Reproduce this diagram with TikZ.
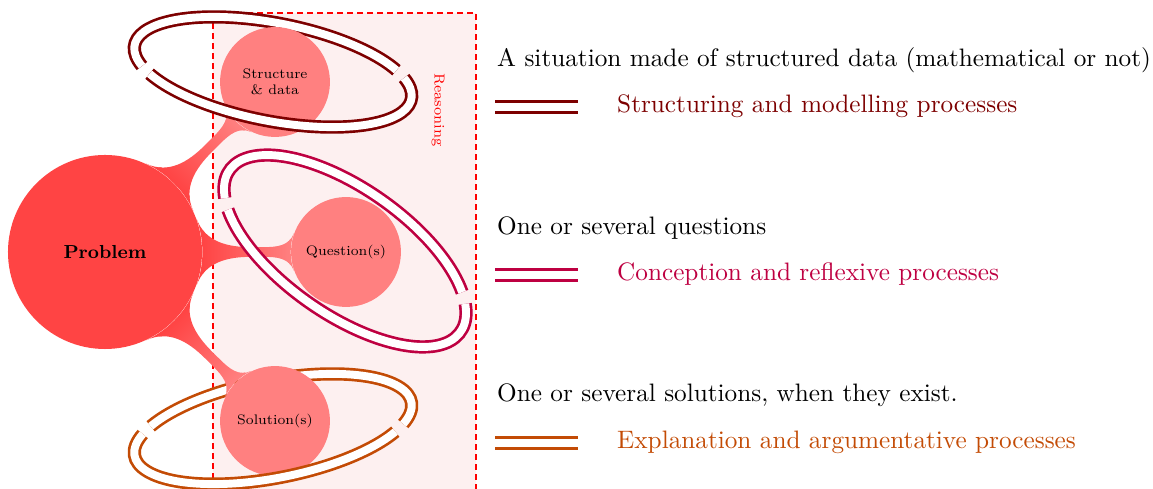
\documentclass[tikz,border=0pt]{standalone}
\usepackage{tikz}
\usetikzlibrary{mindmap}

\definecolor{probred}{RGB}{255,68,68}
\definecolor{kidred}{RGB}{255,128,128}
\definecolor{boxpink}{RGB}{253,240,240}
\definecolor{ringstruct}{RGB}{125,0,0}
\definecolor{ringquest}{RGB}{190,0,65}
\definecolor{ringsol}{RGB}{195,75,5}

\begin{document}
\begin{tikzpicture}[x=0.43pt,y=0.43pt,
  bubble/.style={circle,fill=kidred,inner sep=0pt,minimum size=55.6pt,
    font=\scriptsize,align=center,scale=0.85,transform shape},
  ring/.style={line width=1.15pt,double=white,double distance=3.4pt},
  bar/.style={circle connection bar switch color=from (probred) to (kidred)},
  legend/.style={anchor=west,font=\fontsize{10.85}{13}\selectfont}]
\useasboundingbox (0,0) rectangle (1153,489);
\clip (0,0) rectangle (1153,489);

% Reasoning area
\draw[red,dash pattern=on 2.6pt off 1.7pt,line width=0.9pt,fill=boxpink] (213,-10) rectangle (476,476);
\node[red,rotate=-90,font=\scriptsize,scale=0.89] (reason) at (438,379) {Reasoning};

% Back halves of the rings
\begin{scope}[shift={(273,417)},rotate=-11]
  \draw[ring,draw=ringstruct] (31:141 and 49) arc[start angle=31,end angle=203,x radius=141,y radius=49];
\end{scope}
\begin{scope}[shift={(273,60)},rotate=11]
  \draw[ring,draw=ringsol] (-24:141 and 49) arc[start angle=-24,end angle=148,x radius=141,y radius=49];
\end{scope}

% Concepts
\node[circle,fill=probred,inner sep=0pt,minimum size=92.7pt,font=\small\bfseries,
  scale=0.9,transform shape] (problem) at (105,237) {Problem};
\node[bubble] (struct) at (275,407) {Structure\\ \& data};
\node[bubble] (quest) at (346,237) {Question(s)};
\node[bubble] (sol) at (275,68) {Solution(s)};

% Connections
\path (problem) to[bar] (struct);
\path (problem) to[bar] (quest);
\path (problem) to[bar] (sol);

% Front halves of the rings
\begin{scope}[shift={(273,417)},rotate=-11]
  \draw[ring,draw=ringstruct] (211:141 and 49) arc[start angle=211,end angle=383,x radius=141,y radius=49];
\end{scope}
\begin{scope}[shift={(345,238)},rotate=-35]
  \draw[ring,draw=ringquest] (32:141 and 63) arc[start angle=32,end angle=204,x radius=141,y radius=63];
  \draw[ring,draw=ringquest] (212:141 and 63) arc[start angle=212,end angle=384,x radius=141,y radius=63];
\end{scope}
\begin{scope}[shift={(273,60)},rotate=11]
  \draw[ring,draw=ringsol] (156:141 and 49) arc[start angle=156,end angle=328,x radius=141,y radius=49];
\end{scope}

% Legend
\node[legend] (txtstruct) at (489,429) {A situation made of structured data (mathematical or not)};
\draw[ring,draw=ringstruct] (495,382) -- (578,382);
\node[legend,ringstruct] (procstruct) at (609,383) {Structuring and modelling processes};

\node[legend] (txtquest) at (489,261) {One or several questions};
\draw[ring,draw=ringquest] (495,214) -- (578,214);
\node[legend,ringquest] (procquest) at (609,215) {Conception and reflexive processes};

\node[legend] (txtsol) at (489,94) {One or several solutions, when they exist.};
\draw[ring,draw=ringsol] (495,46) -- (578,46);
\node[legend,ringsol] (procsol) at (609,47) {Explanation and argumentative processes};
\end{tikzpicture}
\end{document}
